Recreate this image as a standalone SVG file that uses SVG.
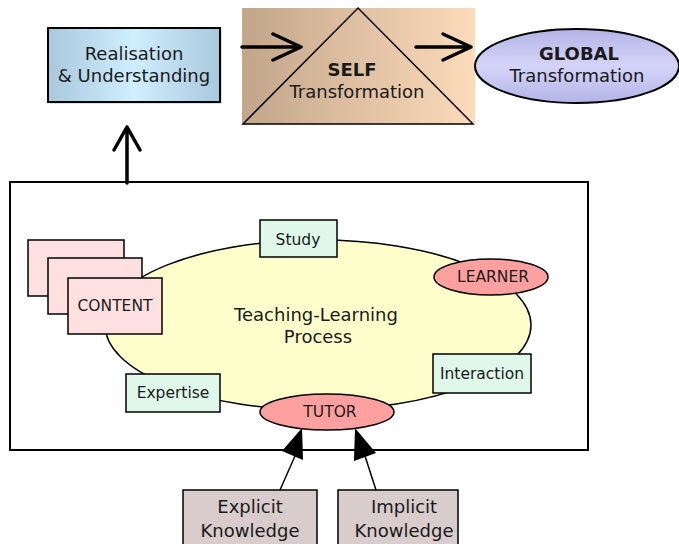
<svg xmlns="http://www.w3.org/2000/svg" width="679" height="544" viewBox="0 0 679 544">
<defs>
<linearGradient id="gBlue" x1="0" x2="1" y1="0" y2="0">
<stop offset="0" stop-color="#a9c8dc"/><stop offset="0.5" stop-color="#cfefff"/><stop offset="1" stop-color="#a9c8dc"/>
</linearGradient>
<linearGradient id="gSelf" x1="0" x2="1" y1="0" y2="0">
<stop offset="0" stop-color="#c2a68a"/><stop offset="1" stop-color="#fddbbb"/>
</linearGradient>
<linearGradient id="gGlobal" x1="0" x2="0" y1="0" y2="1">
<stop offset="0" stop-color="#b4b4e6"/><stop offset="0.5" stop-color="#d4d4fa"/><stop offset="1" stop-color="#b4b4e6"/>
</linearGradient>
</defs>
<style>
text{font-family:"DejaVu Sans","Liberation Sans",sans-serif;fill:#1a1a1a;text-anchor:middle}
.s{stroke:#000;stroke-width:2}
.t{stroke:#000;stroke-width:1.5}
.lbl{font-size:15.5px}
.big{font-size:18px}
.b{font-weight:bold}
.con{stroke:#000;stroke-width:3.5;fill:none;stroke-linecap:round;stroke-linejoin:round}
</style>
<rect width="679" height="544" fill="#fff"/>
<g id="realisation">
<rect x="50" y="30" width="172" height="74" fill="#b9d2e0" opacity="0.6"/>
<rect x="48" y="28" width="172" height="74" fill="url(#gBlue)" class="s"/>
<text x="134" y="60" class="big">Realisation</text>
<text x="134" y="82" class="big">&amp; Understanding</text>
</g>
<g id="self">
<rect x="242" y="8" width="233" height="116" fill="url(#gSelf)"/>
<path d="M243,124 L358,8 L473,124 Z" fill="none" stroke="#000" stroke-width="1.5"/>
<text x="352" y="76" class="big b">SELF</text>
<text x="357" y="98" class="big">Transformation</text>
</g>
<g id="global">
<ellipse cx="577" cy="66" rx="102" ry="37" fill="url(#gGlobal)" class="s"/>
<text x="579" y="60" class="big b">GLOBAL</text>
<text x="577" y="82" class="big">Transformation</text>
</g>
<g id="main">
<rect x="10" y="182" width="578" height="268" fill="#fff" class="s"/>
</g>
<g id="process">
<ellipse cx="318" cy="325" rx="213" ry="85" fill="#ffffcc" class="t"/>
<text x="316" y="321" class="big">Teaching-Learning</text>
<text x="318" y="343" class="big">Process</text>
</g>
<g id="content">
<rect x="28" y="240" width="96" height="56" fill="#ffe0e0" class="t"/>
<rect x="48" y="258" width="94" height="56" fill="#ffe0e0" class="t"/>
<rect x="68" y="278" width="94" height="56" fill="#ffe0e0" class="t"/>
<text x="115" y="311" class="lbl">CONTENT</text>
</g>
<g id="study">
<rect x="260" y="220" width="77" height="37" fill="#dff8ea" class="t"/>
<text x="298" y="245" class="lbl">Study</text>
</g>
<g id="learner">
<ellipse cx="491" cy="277" rx="57" ry="18" fill="#ffa0a0" class="t"/>
<text x="493" y="282" class="lbl">LEARNER</text>
</g>
<g id="interaction">
<rect x="433" y="354" width="98" height="39" fill="#dff8ea" class="t"/>
<text x="482" y="379" class="lbl">Interaction</text>
</g>
<g id="expertise">
<rect x="126" y="374" width="94" height="38" fill="#dff8ea" class="t"/>
<text x="173" y="398" class="lbl">Expertise</text>
</g>
<g id="tutor">
<ellipse cx="327" cy="412" rx="67" ry="18" fill="#ffa0a0" class="t"/>
<text x="330" y="417" class="lbl">TUTOR</text>
</g>
<g id="explicit">
<rect x="183" y="490" width="134" height="60" fill="#d9cccc" class="t"/>
<text x="250" y="513" class="big">Explicit</text>
<text x="250" y="537" class="big">Knowledge</text>
</g>
<g id="implicit">
<rect x="338" y="490" width="120" height="60" fill="#d9cccc" class="t"/>
<text x="404" y="513" class="big">Implicit</text>
<text x="404" y="537" class="big">Knowledge</text>
</g>
<g id="connectors">
<path class="con" d="M242,47 L301,47 M273,34 L301,47 L273,60"/>
<path class="con" d="M416,47 L471,47 M443,34 L471,47 L443,60"/>
<path class="con" d="M127,183 L127,127 M114,150 L127,127 L140,150"/>
<path d="M280,490 L295,456" stroke="#000" stroke-width="1.5"/>
<path d="M302,428 L282,451 L303,460 Z" fill="#000"/>
<path d="M376,490 L365,456" stroke="#000" stroke-width="1.5"/>
<path d="M355,428 L354,461 L376,453 Z" fill="#000"/>
</g>
</svg>
